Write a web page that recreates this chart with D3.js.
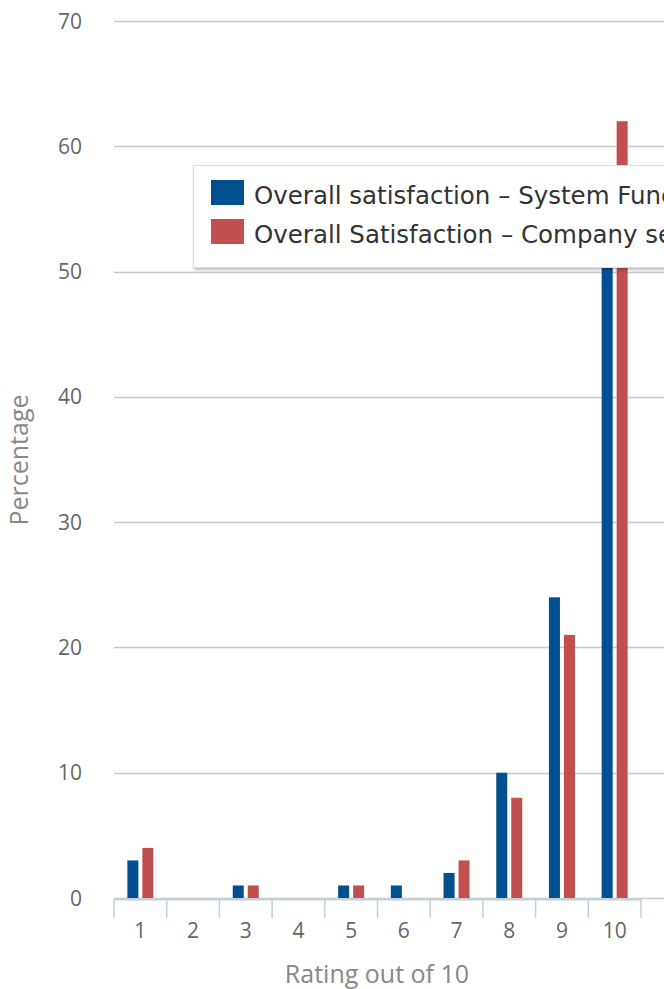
<!DOCTYPE html>
<html><head><meta charset="utf-8">
<script src="https://cdn.jsdelivr.net/npm/d3@7"></script>
<style>body{margin:0;background:#fff;overflow:hidden}</style>
</head><body>
<svg id="c" width="664" height="989"></svg>
<script>
const categories = ["1","2","3","4","5","6","7","8","9","10"];
const systemValues = [3,0,1,0,1,1,2,10,24,58];
const companyValues = [4,0,1,0,1,0,3,8,21,62];
const seriesNames = ["Overall satisfaction - System Functionality","Overall Satisfaction - Company service"];
const seriesColors = ["#004f8f","#c0504d"];
const yTicks = [0,10,20,30,40,50,60,70];

const svg = d3.select("#c");
const x = d3.scaleBand().domain(categories).range([114, 641]);
const y = d3.scaleLinear().domain([0,70]).range([898, 21]);

// gridlines
svg.append("g").selectAll("line").data(yTicks).join("line")
  .attr("x1",114).attr("x2",664)
  .attr("y1",d=>Math.round(y(d))+0.5).attr("y2",d=>Math.round(y(d))+0.5)
  .attr("stroke","#c8c8c8").attr("stroke-width",1.5);

// y labels
svg.append("g").selectAll("text").data(yTicks).join("text")
  .attr("x",82).attr("y",d=>y(d)).attr("dy","0.36em")
  .attr("text-anchor","end").attr("fill","#666")
  .style("font-family","Open Sans, sans-serif").style("font-size","21px")
  .text(d=>d);

// bars
const bw = 11;
const series = [systemValues, companyValues];
series.forEach((vals,si)=>{
  svg.append("g").selectAll("rect").data(categories).join("rect")
    .attr("x",(d)=>x(d)+x.bandwidth()/2 + (si===0 ? -13 : 2))
    .attr("width",bw)
    .attr("y",(d,i)=>y(vals[i]))
    .attr("height",(d,i)=>y(0)-y(vals[i]))
    .attr("fill",seriesColors[si]);
});

// x axis
const xa = svg.append("g");
xa.append("line").attr("x1",114).attr("x2",641).attr("y1",899.5).attr("y2",899.5)
  .attr("stroke","#c0d0e0").attr("stroke-width",2);
const tickPos = categories.map(c=>x(c)).concat([x.range()[1]]);
xa.selectAll("line.t").data(tickPos).join("line").attr("class","t")
  .attr("x1",d=>d).attr("x2",d=>d).attr("y1",899).attr("y2",918)
  .attr("stroke","#c0d0e0").attr("stroke-width",1.5);
xa.selectAll("text").data(categories).join("text")
  .attr("x",d=>x(d)+x.bandwidth()/2).attr("y",938)
  .attr("text-anchor","middle").attr("fill","#666")
  .style("font-family","Open Sans, sans-serif").style("font-size","21px")
  .text(d=>d);

// axis titles
svg.append("text").attr("x",377).attr("y",983).attr("text-anchor","middle")
  .attr("fill","#888").style("font-family","Open Sans, sans-serif").style("font-size","25px")
  .text("Rating out of 10");
svg.append("text").attr("transform","translate(28,460) rotate(-90)").attr("text-anchor","middle")
  .attr("fill","#888").style("font-family","Open Sans, sans-serif").style("font-size","25px")
  .text("Percentage");

// legend
const defs = svg.append("defs");
const f = defs.append("filter").attr("id","sh").attr("x","-10%").attr("y","-10%").attr("width","130%").attr("height","140%");
f.append("feDropShadow").attr("dx",1).attr("dy",2).attr("stdDeviation",1.5).attr("flood-color","#000").attr("flood-opacity",0.25);
const lg = svg.append("g");
lg.append("rect").attr("x",193.5).attr("y",165.5).attr("width",560).attr("height",102)
  .attr("fill","#fff").attr("stroke","#ddd").attr("filter","url(#sh)");
seriesNames.forEach((n,i)=>{
  lg.append("rect").attr("x",211).attr("y",180+i*39).attr("width",33).attr("height",25).attr("fill",seriesColors[i]);
  lg.append("text").attr("x",254).attr("y",204+i*39).attr("fill","#333")
    .style("font-family","DejaVu Sans, sans-serif").style("font-size","24.5px")
    .text(n.replace(" - "," \u2013 "));
});
</script>
</body></html>
